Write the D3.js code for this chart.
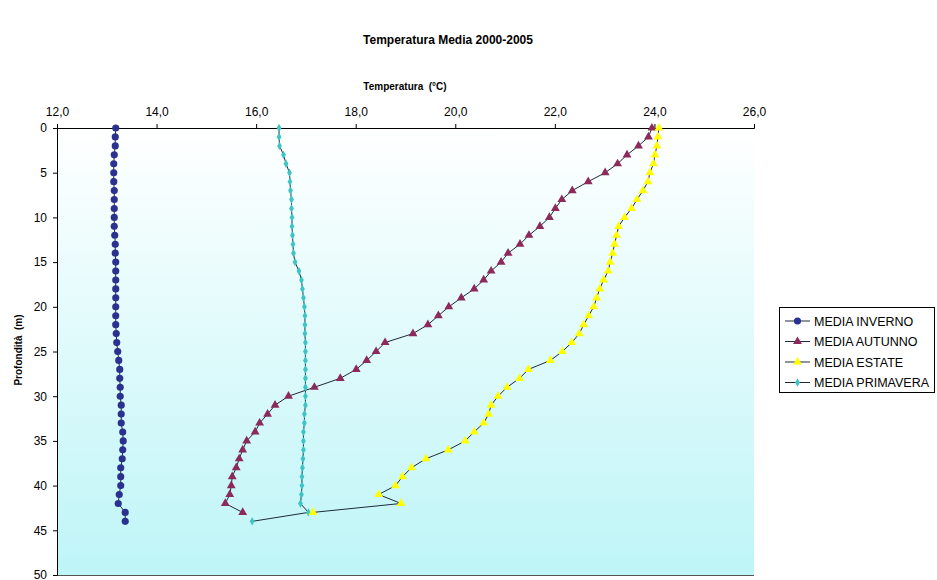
<!DOCTYPE html>
<html>
<head>
<meta charset="utf-8">
<script src="https://cdn.jsdelivr.net/npm/d3@7"></script>
<style>
  body { margin: 0; background: #fff; }
  svg { display: block; font-family: "Liberation Sans", Arial, sans-serif; }
  text { white-space: pre; }
</style>
</head>
<body>
<div id="chart"></div>
<script>
// depth (m) of every measurement
const depths = [0, 1, 2, 3, 4, 5, 6, 7, 8, 9, 10, 11, 12, 13, 14, 15, 16, 17, 18, 19, 20, 21,
  22, 23, 24, 25, 26, 27, 28, 29, 30, 31, 32, 33, 34, 35, 36, 37, 38, 39, 40, 41, 42, 43, 44];

// temperature (°C) per depth
const inverno = [13.18, 13.17, 13.17, 13.15, 13.14, 13.14, 13.14, 13.15, 13.15, 13.15, 13.15, 13.15,
  13.16, 13.17, 13.17, 13.18, 13.18, 13.18, 13.18, 13.18, 13.18, 13.18, 13.18, 13.19, 13.2, 13.22,
  13.24, 13.26, 13.26, 13.27, 13.27, 13.29, 13.29, 13.29, 13.32, 13.33, 13.32, 13.31, 13.28, 13.28,
  13.28, 13.25, 13.23, 13.37, 13.37];
const autunno = [23.95, 23.88, 23.68, 23.45, 23.26, 23.01, 22.67, 22.35, 22.14, 22.01, 21.89, 21.70,
  21.48, 21.30, 21.06, 20.92, 20.72, 20.57, 20.38, 20.12, 19.87, 19.66, 19.45, 19.15, 18.59, 18.41,
  18.22, 18.01, 17.69, 17.17, 16.65, 16.38, 16.23, 16.07, 15.98, 15.81, 15.73, 15.66, 15.60, 15.52,
  15.50, 15.47, 15.38, 15.73];
const estate = [24.09, 24.07, 24.05, 24.01, 23.98, 23.91, 23.87, 23.77, 23.65, 23.54, 23.40, 23.28,
  23.24, 23.20, 23.16, 23.11, 23.07, 22.98, 22.90, 22.84, 22.78, 22.68, 22.58, 22.49, 22.34, 22.15,
  21.91, 21.47, 21.29, 21.04, 20.86, 20.72, 20.67, 20.57, 20.38, 20.20, 19.86, 19.41, 19.12, 18.94,
  18.80, 18.46, 18.91, 17.14];
const primavera = [16.46, 16.46, 16.47, 16.55, 16.60, 16.67, 16.68, 16.69, 16.71, 16.71, 16.72, 16.72,
  16.73, 16.74, 16.75, 16.78, 16.86, 16.91, 16.93, 16.95, 16.97, 16.98, 16.98, 16.98, 16.99, 16.99,
  16.99, 16.99, 16.99, 16.99, 16.99, 16.99, 16.97, 16.97, 16.95, 16.95, 16.95, 16.94, 16.93, 16.92,
  16.92, 16.91, 16.89, 17.05, 15.92];

const seriesNames = ["MEDIA INVERNO", "MEDIA AUTUNNO", "MEDIA ESTATE", "MEDIA PRIMAVERA"];
const tempTicks = [12, 14, 16, 18, 20, 22, 24, 26];
const depthTicks = [0, 5, 10, 15, 20, 25, 30, 35, 40, 45, 50];

const width = 937, height = 580;
const plotLeft = 57, plotRight = 754, plotTop = 128, plotBottom = 575;

const series = [
  { name: seriesNames[0], values: inverno, color: "#2b318f", symbol: d3.symbolCircle, size: 40 },
  { name: seriesNames[1], values: autunno, color: "#8c2a5c", symbol: d3.symbolTriangle, size: 34 },
  { name: seriesNames[3], values: primavera, color: "#3ec4c4", symbol: d3.symbolDiamond, size: 20 },
  { name: seriesNames[2], values: estate, color: "#ffff00", symbol: d3.symbolTriangle, size: 34 }
];

const x = d3.scaleLinear().domain([12, 26]).range([plotLeft, plotRight]);
const y = d3.scaleLinear().domain([0, 50]).range([plotTop, plotBottom]);

const svg = d3.select("#chart").append("svg")
  .attr("width", width)
  .attr("height", height);

// plot background gradient
const grad = svg.append("defs").append("linearGradient")
  .attr("id", "bg").attr("x1", 0).attr("y1", 0).attr("x2", 0).attr("y2", 1);
grad.append("stop").attr("offset", "0%").attr("stop-color", "#ffffff");
grad.append("stop").attr("offset", "100%").attr("stop-color", "#bef5f7");

svg.append("rect")
  .attr("x", plotLeft).attr("y", plotTop)
  .attr("width", plotRight - plotLeft).attr("height", plotBottom - plotTop)
  .attr("fill", "url(#bg)");

svg.append("line")
  .attr("x1", plotLeft).attr("x2", plotRight)
  .attr("y1", plotBottom + 0.5).attr("y2", plotBottom + 0.5)
  .attr("stroke", "#555");

// title
svg.append("text")
  .attr("x", 448).attr("y", 44)
  .attr("text-anchor", "middle")
  .style("font-size", "12px").style("font-weight", "bold")
  .text("Temperatura Media 2000-2005");

svg.append("text")
  .attr("x", 405).attr("y", 90)
  .attr("text-anchor", "middle")
  .style("font-size", "10px").style("font-weight", "bold")
  .text("Temperatura  (°C)");

svg.append("text")
  .attr("transform", "translate(22,350) rotate(-90)")
  .attr("text-anchor", "middle")
  .style("font-size", "10px").style("font-weight", "bold")
  .text("Profondità  (m)");

// axes
const fmt = d => d.toFixed(1).replace(".", ",");

const xAxis = svg.append("g")
  .attr("transform", "translate(0," + plotTop + ")")
  .call(d3.axisTop(x).tickValues(tempTicks).tickFormat(fmt).tickSize(4).tickPadding(8));

const yAxis = svg.append("g")
  .attr("transform", "translate(" + plotLeft + ",0)")
  .call(d3.axisLeft(y).tickValues(depthTicks).tickSize(4).tickPadding(6));

[xAxis, yAxis].forEach(a => {
  a.select(".domain").attr("stroke", "#000");
  a.selectAll("text").style("font-size", "12px").attr("fill", "#000")
    .style("font-family", "'Liberation Sans', Arial, sans-serif");
});

// series
const line = d3.line()
  .x(d => x(d[1]))
  .y(d => y(d[0]));

series.forEach(s => {
  const pts = s.values.map((v, i) => [depths[i], v]);
  svg.append("path")
    .datum(pts)
    .attr("d", line)
    .attr("fill", "none")
    .attr("stroke", "#1e2a3a")
    .attr("stroke-width", 1);

  svg.append("g").selectAll("path")
    .data(pts)
    .enter().append("path")
    .attr("d", d3.symbol().type(s.symbol).size(s.size))
    .attr("transform", d => "translate(" + x(d[1]) + "," + y(d[0]) + ")")
    .attr("fill", s.color);
});

// legend
const legendOrder = [series[0], series[1], series[3], series[2]];
const lg = svg.append("g");
lg.append("rect")
  .attr("x", 779.5).attr("y", 307.5)
  .attr("width", 155).attr("height", 85)
  .attr("fill", "#fff").attr("stroke", "#000");

legendOrder.forEach((s, i) => {
  const ly = 321 + i * 20.5;
  lg.append("line")
    .attr("x1", 785).attr("x2", 810)
    .attr("y1", ly).attr("y2", ly)
    .attr("stroke", "#1e2a3a");
  lg.append("path")
    .attr("d", d3.symbol().type(s.symbol).size(s.size))
    .attr("transform", "translate(797.5," + ly + ")")
    .attr("fill", s.color);
  lg.append("text")
    .attr("x", 814).attr("y", ly + 4.5)
    .style("font-size", "12.5px")
    .text(s.name);
});
</script>
</body>
</html>
